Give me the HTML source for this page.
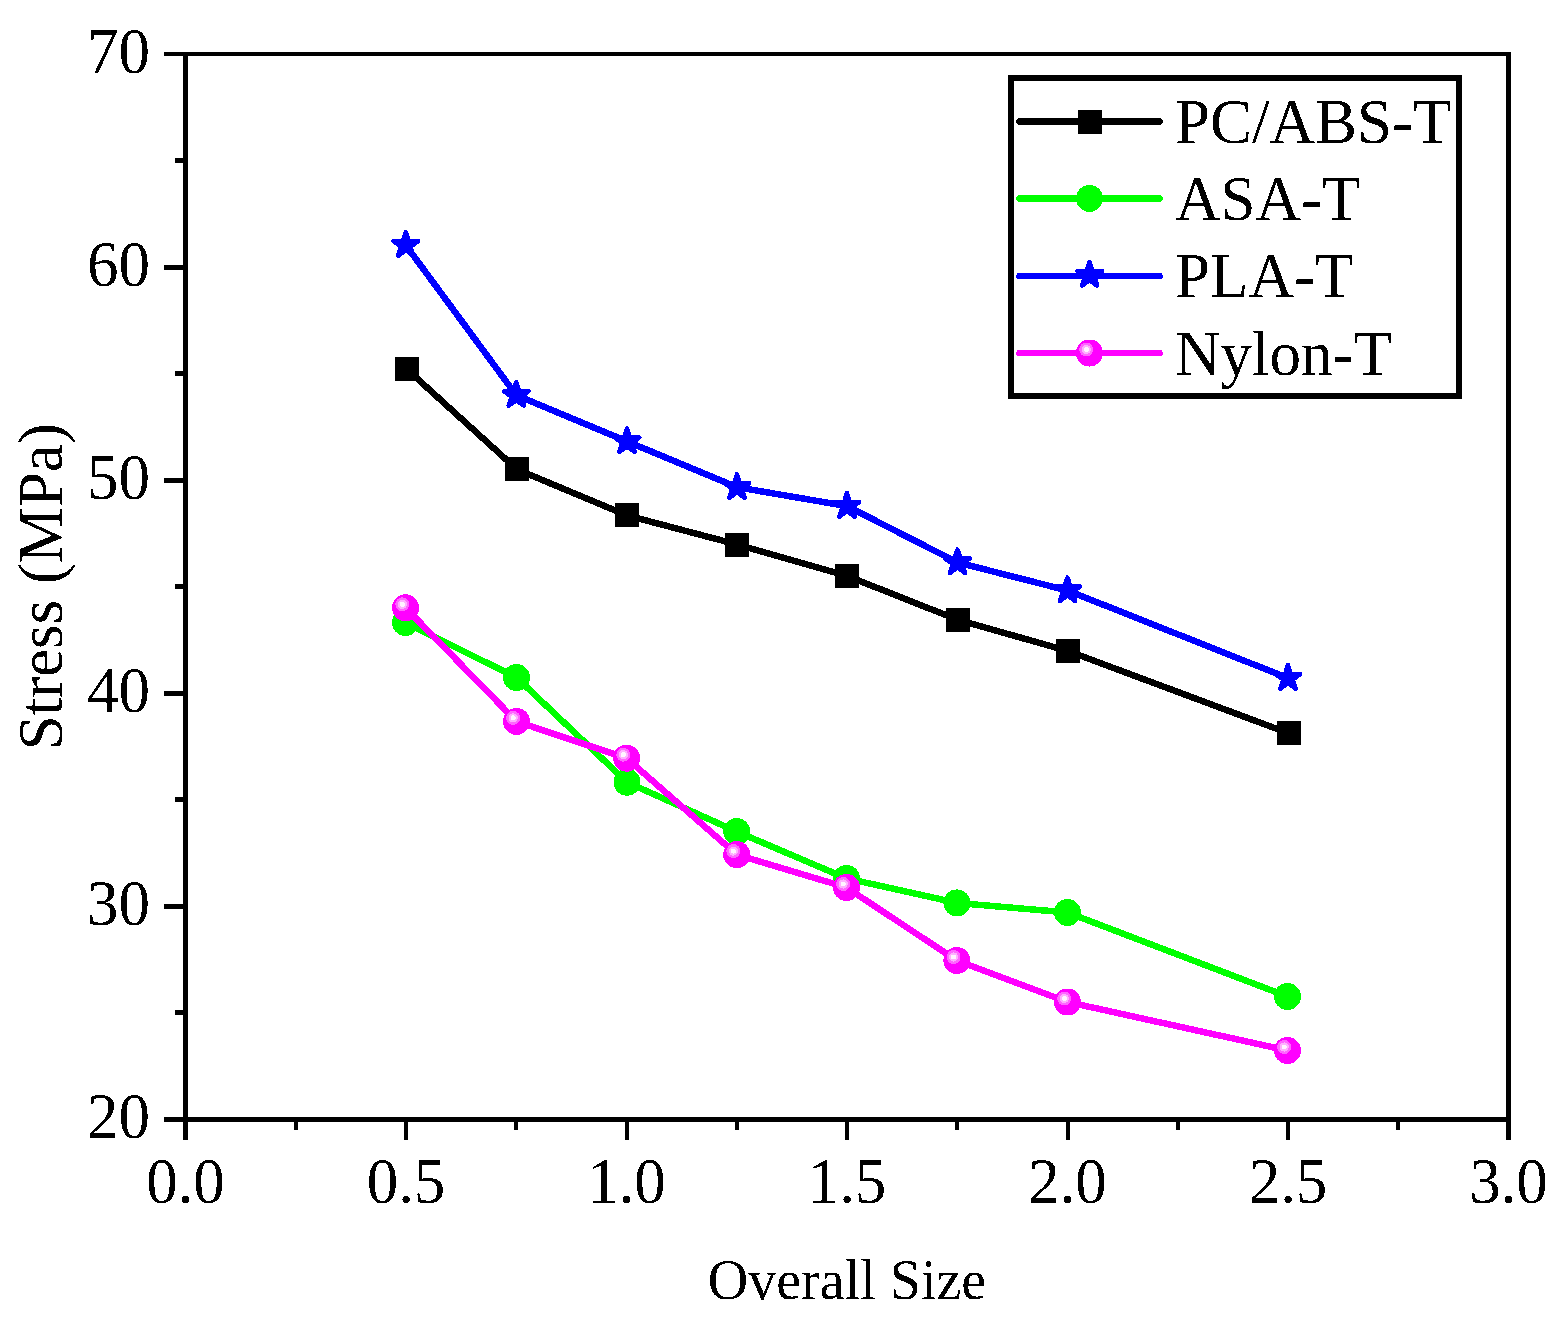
<!DOCTYPE html>
<html><head><meta charset="utf-8"><title>Stress vs Overall Size</title>
<style>
html,body{margin:0;padding:0;background:#fff;}
body{width:1568px;height:1321px;overflow:hidden;}
svg{display:block;}
text{font-family:"Liberation Serif","Times New Roman",serif;fill:#000;}
</style></head><body>
<svg width="1568" height="1321" viewBox="0 0 1568 1321" shape-rendering="crispEdges">
<defs>
<filter id="bin" x="0" y="0" width="1568" height="1321" filterUnits="userSpaceOnUse" color-interpolation-filters="sRGB">
<feComponentTransfer><feFuncA type="discrete" tableValues="0 1"/></feComponentTransfer>
</filter>
</defs>
<rect x="0" y="0" width="1568" height="1321" fill="#fff"/>

<g fill="#000">
<rect x="164" y="52" width="1347" height="4"/>
<rect x="164" y="1117" width="1347" height="5"/>
<rect x="183" y="52" width="5" height="1088"/>
<rect x="1506" y="52" width="5" height="1088"/>
<rect x="164" y="903.90" width="20" height="5"/>
<rect x="164" y="690.80" width="20" height="5"/>
<rect x="164" y="477.70" width="20" height="5"/>
<rect x="164" y="264.60" width="20" height="5"/>
<rect x="174.5" y="1010.45" width="9" height="5"/>
<rect x="174.5" y="797.35" width="9" height="5"/>
<rect x="174.5" y="584.25" width="9" height="5"/>
<rect x="174.5" y="371.15" width="9" height="5"/>
<rect x="174.5" y="158.05" width="9" height="5"/>
<rect x="404.00" y="1121" width="4" height="19"/>
<rect x="624.50" y="1121" width="4" height="19"/>
<rect x="845.00" y="1121" width="4" height="19"/>
<rect x="1065.50" y="1121" width="4" height="19"/>
<rect x="1286.00" y="1121" width="4" height="19"/>
<rect x="293.75" y="1121" width="4" height="9"/>
<rect x="514.25" y="1121" width="4" height="9"/>
<rect x="734.75" y="1121" width="4" height="9"/>
<rect x="955.25" y="1121" width="4" height="9"/>
<rect x="1175.75" y="1121" width="4" height="9"/>
<rect x="1396.25" y="1121" width="4" height="9"/>
</g>
<g filter="url(#bin)">
<g font-size="65" text-anchor="end">
<text transform="translate(150,1138.0) scale(0.969,1)">20</text>
<text transform="translate(150,924.9) scale(0.969,1)">30</text>
<text transform="translate(150,711.8) scale(0.969,1)">40</text>
<text transform="translate(150,498.7) scale(0.969,1)">50</text>
<text transform="translate(150,285.6) scale(0.969,1)">60</text>
<text transform="translate(150,72.5) scale(0.969,1)">70</text>
</g>
<g font-size="65" text-anchor="middle">
<text transform="translate(185.5,1203.4) scale(0.969,1)">0.0</text>
<text transform="translate(406.0,1203.4) scale(0.969,1)">0.5</text>
<text transform="translate(626.5,1203.4) scale(0.969,1)">1.0</text>
<text transform="translate(847.0,1203.4) scale(0.969,1)">1.5</text>
<text transform="translate(1067.5,1203.4) scale(0.969,1)">2.0</text>
<text transform="translate(1288.0,1203.4) scale(0.969,1)">2.5</text>
<text transform="translate(1508.5,1203.4) scale(0.969,1)">3.0</text>
</g>
<text x="847" y="1299" font-size="56" text-anchor="middle">Overall Size</text>
<text transform="translate(62,586.8) rotate(-90)" x="0" y="0" font-size="63" text-anchor="middle">Stress (MPa)</text>
</g>
<polyline points="407.00,369.30 517.00,469.40 627.00,515.40 737.00,544.50 847.00,575.90 958.00,619.90 1068.00,651.00 1289.00,733.40" fill="none" stroke="#000" stroke-width="6.5" stroke-linejoin="miter" stroke-linecap="butt" shape-rendering="crispEdges"/>
<rect x="395.00" y="357.30" width="24" height="24" fill="#000"/><rect x="505.00" y="457.40" width="24" height="24" fill="#000"/><rect x="615.00" y="503.40" width="24" height="24" fill="#000"/><rect x="725.00" y="532.50" width="24" height="24" fill="#000"/><rect x="835.00" y="563.90" width="24" height="24" fill="#000"/><rect x="946.00" y="607.90" width="24" height="24" fill="#000"/><rect x="1056.00" y="639.00" width="24" height="24" fill="#000"/><rect x="1277.00" y="721.40" width="24" height="24" fill="#000"/>
<polyline points="405.50,622.50 516.50,677.50 627.00,782.20 736.70,831.60 846.50,878.40 956.90,902.90 1067.50,912.50 1287.50,996.50" fill="none" stroke="#00ff00" stroke-width="6.5" stroke-linejoin="miter" stroke-linecap="butt" shape-rendering="crispEdges"/>
<circle cx="405.50" cy="622.50" r="13.5" fill="#00ff00"/><circle cx="516.50" cy="677.50" r="13.5" fill="#00ff00"/><circle cx="627.00" cy="782.20" r="13.5" fill="#00ff00"/><circle cx="736.70" cy="831.60" r="13.5" fill="#00ff00"/><circle cx="846.50" cy="878.40" r="13.5" fill="#00ff00"/><circle cx="956.90" cy="902.90" r="13.5" fill="#00ff00"/><circle cx="1067.50" cy="912.50" r="13.5" fill="#00ff00"/><circle cx="1287.50" cy="996.50" r="13.5" fill="#00ff00"/>
<polyline points="405.80,245.20 516.30,395.20 627.00,441.40 737.00,487.20 847.00,506.10 957.50,562.45 1067.50,590.50 1288.00,678.10" fill="none" stroke="#0000ff" stroke-width="6.5" stroke-linejoin="miter" stroke-linecap="butt" shape-rendering="crispEdges"/>
<polygon points="405.80,232.30 408.70,241.21 418.07,241.21 410.49,246.72 413.38,255.64 405.80,250.13 398.22,255.64 401.11,246.72 393.53,241.21 402.90,241.21" fill="#0000ff" stroke="#0000ff" stroke-width="4.6" stroke-linejoin="round"/><polygon points="516.30,382.30 519.20,391.21 528.57,391.21 520.99,396.72 523.88,405.64 516.30,400.13 508.72,405.64 511.61,396.72 504.03,391.21 513.40,391.21" fill="#0000ff" stroke="#0000ff" stroke-width="4.6" stroke-linejoin="round"/><polygon points="627.00,428.50 629.90,437.41 639.27,437.41 631.69,442.92 634.58,451.84 627.00,446.33 619.42,451.84 622.31,442.92 614.73,437.41 624.10,437.41" fill="#0000ff" stroke="#0000ff" stroke-width="4.6" stroke-linejoin="round"/><polygon points="737.00,474.30 739.90,483.21 749.27,483.21 741.69,488.72 744.58,497.64 737.00,492.13 729.42,497.64 732.31,488.72 724.73,483.21 734.10,483.21" fill="#0000ff" stroke="#0000ff" stroke-width="4.6" stroke-linejoin="round"/><polygon points="847.00,493.20 849.90,502.11 859.27,502.11 851.69,507.62 854.58,516.54 847.00,511.03 839.42,516.54 842.31,507.62 834.73,502.11 844.10,502.11" fill="#0000ff" stroke="#0000ff" stroke-width="4.6" stroke-linejoin="round"/><polygon points="957.50,549.55 960.40,558.46 969.77,558.46 962.19,563.97 965.08,572.89 957.50,567.38 949.92,572.89 952.81,563.97 945.23,558.46 954.60,558.46" fill="#0000ff" stroke="#0000ff" stroke-width="4.6" stroke-linejoin="round"/><polygon points="1067.50,577.60 1070.40,586.51 1079.77,586.51 1072.19,592.02 1075.08,600.94 1067.50,595.43 1059.92,600.94 1062.81,592.02 1055.23,586.51 1064.60,586.51" fill="#0000ff" stroke="#0000ff" stroke-width="4.6" stroke-linejoin="round"/><polygon points="1288.00,665.20 1290.90,674.11 1300.27,674.11 1292.69,679.62 1295.58,688.54 1288.00,683.03 1280.42,688.54 1283.31,679.62 1275.73,674.11 1285.10,674.11" fill="#0000ff" stroke="#0000ff" stroke-width="4.6" stroke-linejoin="round"/>
<polyline points="405.60,607.80 516.50,721.40 626.60,758.20 736.70,854.60 846.50,887.50 956.90,960.50 1067.50,1002.00 1287.50,1050.50" fill="none" stroke="#ff00ff" stroke-width="6.5" stroke-linejoin="miter" stroke-linecap="butt" shape-rendering="crispEdges"/>
<circle cx="405.60" cy="607.80" r="13.5" fill="#ff00ff"/><circle cx="402.30" cy="604.30" r="7" fill="#ff66ff"/><circle cx="402.30" cy="604.30" r="4.6" fill="#ffb0ff"/><circle cx="402.30" cy="604.30" r="2.5" fill="#fff4ff"/><circle cx="516.50" cy="721.40" r="13.5" fill="#ff00ff"/><circle cx="513.20" cy="717.90" r="7" fill="#ff66ff"/><circle cx="513.20" cy="717.90" r="4.6" fill="#ffb0ff"/><circle cx="513.20" cy="717.90" r="2.5" fill="#fff4ff"/><circle cx="626.60" cy="758.20" r="13.5" fill="#ff00ff"/><circle cx="623.30" cy="754.70" r="7" fill="#ff66ff"/><circle cx="623.30" cy="754.70" r="4.6" fill="#ffb0ff"/><circle cx="623.30" cy="754.70" r="2.5" fill="#fff4ff"/><circle cx="736.70" cy="854.60" r="13.5" fill="#ff00ff"/><circle cx="733.40" cy="851.10" r="7" fill="#ff66ff"/><circle cx="733.40" cy="851.10" r="4.6" fill="#ffb0ff"/><circle cx="733.40" cy="851.10" r="2.5" fill="#fff4ff"/><circle cx="846.50" cy="887.50" r="13.5" fill="#ff00ff"/><circle cx="843.20" cy="884.00" r="7" fill="#ff66ff"/><circle cx="843.20" cy="884.00" r="4.6" fill="#ffb0ff"/><circle cx="843.20" cy="884.00" r="2.5" fill="#fff4ff"/><circle cx="956.90" cy="960.50" r="13.5" fill="#ff00ff"/><circle cx="953.60" cy="957.00" r="7" fill="#ff66ff"/><circle cx="953.60" cy="957.00" r="4.6" fill="#ffb0ff"/><circle cx="953.60" cy="957.00" r="2.5" fill="#fff4ff"/><circle cx="1067.50" cy="1002.00" r="13.5" fill="#ff00ff"/><circle cx="1064.20" cy="998.50" r="7" fill="#ff66ff"/><circle cx="1064.20" cy="998.50" r="4.6" fill="#ffb0ff"/><circle cx="1064.20" cy="998.50" r="2.5" fill="#fff4ff"/><circle cx="1287.50" cy="1050.50" r="13.5" fill="#ff00ff"/><circle cx="1284.20" cy="1047.00" r="7" fill="#ff66ff"/><circle cx="1284.20" cy="1047.00" r="4.6" fill="#ffb0ff"/><circle cx="1284.20" cy="1047.00" r="2.5" fill="#fff4ff"/>
<rect x="1011" y="78" width="448" height="318" fill="#fff" stroke="#000" stroke-width="6"/>
<line x1="1019.5" y1="121.5" x2="1159.5" y2="121.5" stroke="#000" stroke-width="6.5" stroke-linecap="round"/>
<rect x="1078.00" y="110.00" width="24" height="24" fill="#000"/>
<text x="1175" y="143.2" font-size="63" filter="url(#bin)">PC/ABS-T</text>
<line x1="1019.5" y1="198.5" x2="1159.5" y2="198.5" stroke="#00ff00" stroke-width="6.5" stroke-linecap="round"/>
<circle cx="1089.50" cy="198.40" r="13.5" fill="#00ff00"/>
<text x="1175" y="220.3" font-size="63" filter="url(#bin)">ASA-T</text>
<line x1="1019.5" y1="276" x2="1159.5" y2="276" stroke="#0000ff" stroke-width="6.5" stroke-linecap="round"/>
<polygon points="1089.60,262.30 1092.50,271.21 1101.87,271.21 1094.29,276.72 1097.18,285.64 1089.60,280.13 1082.02,285.64 1084.91,276.72 1077.33,271.21 1086.70,271.21" fill="#0000ff" stroke="#0000ff" stroke-width="4.6" stroke-linejoin="round"/>
<text x="1175" y="297.4" font-size="63" filter="url(#bin)">PLA-T</text>
<line x1="1019.5" y1="353" x2="1159.5" y2="353" stroke="#ff00ff" stroke-width="6.5" stroke-linecap="round"/>
<circle cx="1089.50" cy="353.00" r="13.5" fill="#ff00ff"/><circle cx="1086.20" cy="349.50" r="7" fill="#ff66ff"/><circle cx="1086.20" cy="349.50" r="4.6" fill="#ffb0ff"/><circle cx="1086.20" cy="349.50" r="2.5" fill="#fff4ff"/>
<text x="1175" y="374.5" font-size="63" filter="url(#bin)">Nylon-T</text>
</svg></body></html>
